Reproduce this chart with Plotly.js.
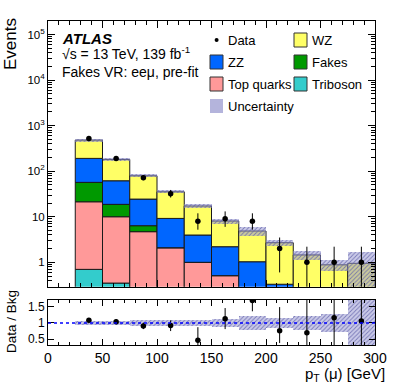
<!DOCTYPE html>
<html>
<head>
<meta charset="utf-8">
<script src="https://cdn.plot.ly/plotly-3.0.1.min.js"></script>
<style>
  html, body { margin: 0; padding: 0; background: #fff; }
  #chart { width: 399px; height: 385px; }
</style>
</head>
<body>
<div id="chart"></div>
<script>
// bins: 25 GeV wide, 25..300
const binCenters = [37.5, 62.5, 87.5, 112.5, 137.5, 162.5, 187.5, 212.5, 237.5, 262.5, 287.5];
const binWidth = 25;

// stacked backgrounds, bottom to top
const triboson  = [0.7, 0.35, 0.1, 0.05, 0.02, 0.01, 0.01, 0, 0, 0, 0];
const topQuarks = [20.6, 9.65, 4.6, 2.04, 0.98, 0.5, 0.2, 0.1, 0.05, 0.02, 0.02];
const fakes     = [35.5, 8.7, 1.66, 0, 0, 0, 0, 0, 0, 0, 0];
const zz        = [134, 42.9, 18.05, 7.1, 2.97, 1.69, 0.82, 0.23, 0.15, 0.08, 0.05];
const wz        = [290, 119.4, 54.8, 26.1, 13.23, 5.85, 3.83, 2.36, 1.25, 0.78, 0.88];

// relative background uncertainty per bin
const bkgRelUnc = [0.07, 0.07, 0.08, 0.08, 0.09, 0.12, 0.22, 0.15, 0.22, 0.27, 0.8];

// data
const dataVals  = [520, 190, 72, 32, 8, 9, 8, 2, 1, 1, 1];
const dataUp    = [23, 14, 9, 6.7, 3.9, 4.1, 3.9, 1.5, 1.2, 1.2, 1.2];
const dataDown  = [23, 14, 8.5, 5.6, 2.8, 3.0, 2.8, 1.4, 0.83, 0.83, 0.83];

// ratio panel
const ratioVals = [1.08, 1.04, 0.91, 0.92, 0.47, 1.13, 1.69, 0.76, 0.70, 1.16, 1.06];
const ratioUp   = [0.05, 0.08, 0.1, 0.16, 0.4, 0.33, 0.6, 0.73, 1.5, 2.5, 2.5];
const ratioDown = [0.05, 0.08, 0.1, 0.17, 0.16, 0.32, 0.33, 0.38, 0.55, 0.9, 0.9];

const FONT = "Liberation Sans, Arial, Helvetica, sans-serif";
const L = 48, R = 24, T = 21, B = 40, W = 399, H = 385;
const px = v => (v - L) / (W - L - R);
const py = v => (H - B - v) / (H - T - B);

const layers = [
  { name: "Triboson",   vals: triboson,  color: "#33cccc" },
  { name: "Top quarks", vals: topQuarks, color: "#ff9999" },
  { name: "Fakes",      vals: fakes,     color: "#009900" },
  { name: "ZZ",         vals: zz,        color: "#0066ff" },
  { name: "WZ",         vals: wz,        color: "#ffff66" }
];

const traces = [];
let cum = binCenters.map(() => 0);
layers.forEach(l => {
  const base = cum.map(c => (c > 0 ? c : 1e-3));
  traces.push({
    type: "bar", x: binCenters, y: l.vals, base: base, width: binWidth,
    marker: { color: l.color, line: { color: "#1a1a1a", width: 1 } },
    xaxis: "x", yaxis: "y", hoverinfo: "skip", showlegend: false
  });
  cum = cum.map((c, i) => c + l.vals[i]);
});
const total = cum;

const hatch = {
  color: "rgba(150,150,210,0.5)",
  line: { width: 0 },
  pattern: { shape: "/", fgcolor: "rgba(100,100,170,0.8)", bgcolor: "rgba(150,150,210,0.5)", size: 3, solidity: 0.3 }
};

// uncertainty band on the stack
traces.push({
  type: "bar", x: binCenters, width: binWidth,
  base: total.map((t, i) => t * (1 - bkgRelUnc[i])),
  y: total.map((t, i) => 2 * t * bkgRelUnc[i]),
  marker: hatch, xaxis: "x", yaxis: "y", hoverinfo: "skip", showlegend: false
});

// data
traces.push({
  type: "scatter", mode: "markers", x: binCenters, y: dataVals,
  marker: { color: "#000", size: 5.5 },
  error_y: { type: "data", symmetric: false, array: dataUp, arrayminus: dataDown, color: "#000", thickness: 1, width: 0 },
  xaxis: "x", yaxis: "y", hoverinfo: "skip", showlegend: false
});

// ratio band
traces.push({
  type: "bar", x: binCenters, width: binWidth,
  base: bkgRelUnc.map(r => 1 - r),
  y: bkgRelUnc.map(r => 2 * r),
  marker: hatch, xaxis: "x2", yaxis: "y2", hoverinfo: "skip", showlegend: false
});

// ratio points
traces.push({
  type: "scatter", mode: "markers", x: binCenters, y: ratioVals,
  marker: { color: "#000", size: 5.5 },
  error_y: { type: "data", symmetric: false, array: ratioUp, arrayminus: ratioDown, color: "#000", thickness: 1, width: 0 },
  xaxis: "x2", yaxis: "y2", hoverinfo: "skip", showlegend: false
});

const axisBase = {
  showline: true, linecolor: "#000", linewidth: 1, mirror: "allticks",
  ticks: "inside", tickcolor: "#000", showgrid: false, zeroline: false
};

// legend drawn by hand (two columns, ROOT style)
const legendItems = [
  { label: "Data",        col: 0, row: 0, kind: "marker" },
  { label: "ZZ",          col: 0, row: 1, color: "#0066ff" },
  { label: "Top quarks",  col: 0, row: 2, color: "#ff9999" },
  { label: "Uncertainty", col: 0, row: 3, color: "#b4b4dc", noLine: true },
  { label: "WZ",          col: 1, row: 0, color: "#ffff66" },
  { label: "Fakes",       col: 1, row: 1, color: "#009900" },
  { label: "Triboson",    col: 1, row: 2, color: "#33cccc" }
];
const colX = [210, 294];
const rowY = [40, 62, 84, 106];
const shapes = [];
const annotations = [];
legendItems.forEach(it => {
  const x0 = colX[it.col], yc = rowY[it.row];
  if (it.kind === "marker") {
    shapes.push({ type: "circle", xref: "paper", yref: "paper",
      x0: px(x0 + 4.6), x1: px(x0 + 8.6), y0: py(yc + 2), y1: py(yc - 2),
      fillcolor: "#000", line: { width: 0 } });
  } else {
    shapes.push({ type: "rect", xref: "paper", yref: "paper",
      x0: px(x0), x1: px(x0 + 13), y0: py(yc + 7), y1: py(yc - 7),
      fillcolor: it.color, line: it.noLine ? { width: 0 } : { color: "#333", width: 1 } });
  }
  annotations.push({ xref: "paper", yref: "paper", x: px(x0 + 16), y: py(yc),
    xanchor: "left", yanchor: "middle", showarrow: false,
    text: it.label, font: { family: FONT, size: 13, color: "#000" } });
});

// dashed line at ratio = 1
shapes.push({ type: "line", xref: "x2", yref: "y2", x0: 0, x1: 300, y0: 1, y1: 1,
  line: { color: "#0000ff", width: 1.5, dash: "dot" } });

annotations.push(
  { xref: "paper", yref: "paper", x: px(60), y: py(38.5), xanchor: "left", yanchor: "middle", showarrow: false,
    text: "<b><i>ATLAS</i></b>", font: { family: FONT, size: 15, color: "#000" } },
  { xref: "paper", yref: "paper", x: px(60), y: py(52.5), xanchor: "left", yanchor: "middle", showarrow: false,
    text: "\u221As = 13 TeV, 139 fb<sup>-1</sup>", font: { family: FONT, size: 14, color: "#000" } },
  { xref: "paper", yref: "paper", x: px(60), y: py(72), xanchor: "left", yanchor: "middle", showarrow: false,
    text: "Fakes VR: ee\u03bc, pre-fit", font: { family: FONT, size: 14, color: "#000" } },
  { xref: "paper", yref: "paper", x: px(11), y: py(44), xanchor: "center", yanchor: "middle", showarrow: false,
    textangle: -90, text: "Events", font: { family: FONT, size: 17, color: "#000" } },
  { xref: "paper", yref: "paper", x: px(11), y: py(322), xanchor: "center", yanchor: "middle", showarrow: false,
    textangle: -90, text: "Data / Bkg", font: { family: FONT, size: 13.5, color: "#000" } },
  { xref: "paper", yref: "paper", x: px(387), y: py(374), xanchor: "right", yanchor: "middle", showarrow: false,
    text: "p<sub>T</sub> (\u03bc) [GeV]", font: { family: FONT, size: 15, color: "#000" } }
);

const layout = {
  width: W, height: H,
  margin: { l: L, r: R, t: T, b: B },
  paper_bgcolor: "#fff", plot_bgcolor: "#fff",
  barmode: "overlay", bargap: 0, showlegend: false,
  font: { family: FONT, color: "#000" },
  xaxis: Object.assign({}, axisBase, {
    domain: [0, 1], range: [0, 300], anchor: "y", showticklabels: false,
    tick0: 0, dtick: 50, ticklen: 7,
    minor: { ticks: "inside", ticklen: 4, dtick: 10, tickcolor: "#000" }
  }),
  yaxis: Object.assign({}, axisBase, {
    domain: [0.18, 1], type: "log", range: [-0.535, 5.296], anchor: "x",
    tickvals: [1, 10, 100, 1e3, 1e4, 1e5],
    ticktext: ["1", "10", "10<sup>2</sup>", "10<sup>3</sup>", "10<sup>4</sup>", "10<sup>5</sup>"],
    ticklen: 7, tickfont: { family: FONT, size: 11.5 },
    minor: { ticks: "inside", ticklen: 4, dtick: "D1", tickcolor: "#000" }
  }),
  xaxis2: Object.assign({}, axisBase, {
    domain: [0, 1], range: [0, 300], anchor: "y2",
    tick0: 0, dtick: 50, ticklen: 6, tickfont: { family: FONT, size: 14 },
    minor: { ticks: "inside", ticklen: 3, dtick: 10, tickcolor: "#000" }
  }),
  yaxis2: Object.assign({}, axisBase, {
    domain: [0, 0.139], range: [0.32, 1.71], anchor: "x2",
    tickvals: [0.5, 1, 1.5], ticktext: ["0.5", "1", "1.5"],
    ticklen: 6, tickfont: { family: FONT, size: 12 }
  }),
  shapes: shapes,
  annotations: annotations
};

Plotly.newPlot("chart", traces, layout, { displayModeBar: false, staticPlot: true });
</script>
</body>
</html>
